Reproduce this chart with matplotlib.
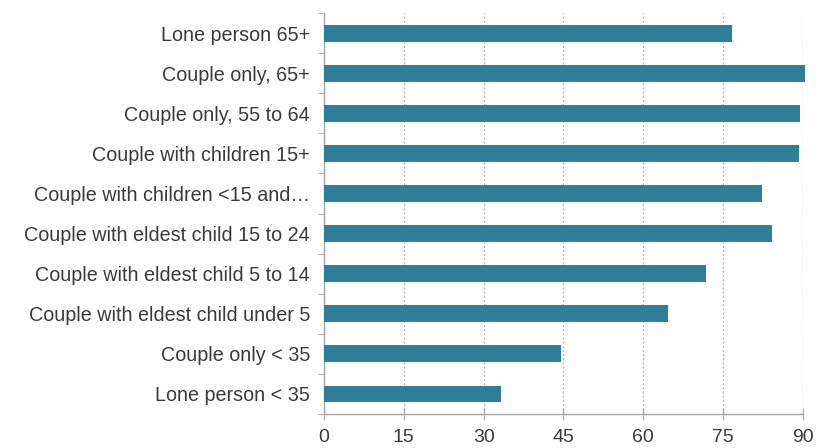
import matplotlib
matplotlib.use('Agg')
import matplotlib.pyplot as plt
import numpy as np

plt.rcParams['font.family'] = ['Liberation Sans', 'DejaVu Sans']

categories = [
    "Lone person 65+",
    "Couple only, 65+",
    "Couple only, 55 to 64",
    "Couple with children 15+",
    "Couple with children <15 and\u2026",
    "Couple with eldest child 15 to 24",
    "Couple with eldest child 5 to 14",
    "Couple with eldest child under 5",
    "Couple only < 35",
    "Lone person < 35",
]
values = [76.7, 90.3, 89.4, 89.2, 82.2, 84.1, 71.7, 64.6, 44.5, 33.3]
xticks = [0, 15, 30, 45, 60, 75, 90]

bar_color = "#2E7F97"
axis_color = "#A6A6A6"

fig = plt.figure(figsize=(8.18, 4.48), dpi=100)
ax = fig.add_axes([0.396, 0.0759, 0.5857, 0.895])

y = np.arange(len(categories))[::-1]
bars = ax.barh(y, values, height=0.42, color=bar_color, zorder=3)
for b in bars:
    b.set_clip_on(False)

ax.set_xlim(0, 90)
ax.set_ylim(-0.5, len(categories) - 0.5)
ax.set_xticks(xticks)
ax.set_yticks(y)
ax.set_yticklabels(categories)
ax.set_yticks(np.arange(-0.5, len(categories), 1), minor=True)

ax.xaxis.grid(True, linestyle=(0, (1.5, 1.5)), color="#BBBBBB", linewidth=1, zorder=0)

for s in ["top", "right"]:
    ax.spines[s].set_visible(False)
for s in ["left", "bottom"]:
    ax.spines[s].set_color(axis_color)
    ax.spines[s].set_linewidth(1)

ax.tick_params(axis="y", which="major", length=0, pad=10, labelsize=14.2, labelcolor="#3A3A3A")
ax.tick_params(axis="y", which="minor", length=4, color=axis_color)
ax.tick_params(axis="x", which="major", length=8, direction="inout", color=axis_color,
               labelsize=14, labelcolor="#3A3A3A", pad=7)

fig.savefig("out.png", dpi=100)
